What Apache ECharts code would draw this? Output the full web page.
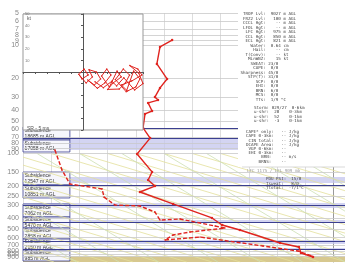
<!DOCTYPE html>
<html><head><meta charset="utf-8">
<script src="https://cdn.jsdelivr.net/npm/echarts@6/dist/echarts.min.js"></script>
<style>html,body{margin:0;padding:0;background:#fff;overflow:hidden}#c{width:345px;height:267px}</style>
</head><body><div id="c"></div>
<script>
// ---------- data ----------
const pressureTicks = [5,6,7,8,9,10,20,30,40,50,60,70,80,90,100,150,200,250,300,400,500,600,700,800,850,900];
// temperature profile (skewed deg C, hPa)
const tempX = [-57.2,-61.5,-62.6,-59.0,-61.5,-63.3,-62.2,-65.7,-64.3,-66.8,-67.5,-65.0,-69.6,-64.3,-65.7,-63.3,-68.6,-56.9,-43.1,-39.5,-33.2,-19.0,-12.3,-11.6,-7.3];
const tempP = [8.9,10.3,14.8,20.4,24.7,30,32,34,40.4,43,58,72,101,148,176,200,227,293,395,459,511,674,734,834,908];
// dew point profile
const dewX = [-98.7,-96.2,-93.4,-82.0,-81.3,-77.4,-68.6,-63.3,-61.5,-54.4,-42.0,-38.5,-50.9,-56.9,-59.7,-47.3,-25.0,-12.6,-7.7];
const dewP = [92.8,142,191.5,213,253,300,306,348,413,404,469,490,533,568,632,593,718,800,889];
// hodograph (u, v)
const hodoU = [-2.6,0.9,4.3,-0.9,-3.5,2.6,7.8,5.0,11.2,14.7,9.5,4.0,12.0,18.1,23.3,19.8,15.5,22.0,28.4,31.9,25.0,20.5,30.2,35.3,38.8,33.6,27.0,36.0,42.2,47.4,44.0,37.1,31.9,40.5,49.1,45.7,39.0,46.5,50.0,43.0,34.0,28.0,24.0,17.0,10.0];
const hodoV = [-0.9,2.6,-2.6,-6.0,-2.0,-9.5,-4.3,2.0,0,-6.0,-11.2,-7.0,-14.0,-9.5,-2.6,2.6,-3.5,-13.0,0.9,-4.3,-9.5,-15.0,-14.7,-9.5,-2.6,2.6,-6.5,-17.0,0.9,-6.0,-12.9,-16.4,-11.2,-7.8,-2.6,2.6,5.5,-1.0,-10.0,-15.5,-5.0,-12.0,-8.0,-13.5,-8.5];
// subsidence shading layers (top hPa, bottom hPa)
const bandTop = [71.8,165,287,413,632,750];
const bandBottom = [92.8,187.5,320,440,689,782];
const layerLines = [58,71.8,195.6,300,431,646,766];
// subsidence label boxes
const boxTop = [56.8,75,148.4,195.6,293.4,387,489.6,619,782];
const boxBottom = [75,96.8,195.6,258,387,489.6,619,782,989];
const boxText = ['Subsidence\n18685 m AGL','Subsidence\n17058 m AGL','Subsidence\n12547 m AGL','Subsidence\n10851 m AGL','Subsidence\n7062 m AGL','Subsidence\n5470 m AGL','Subsidence\n2858 m AGL','Subsidence\n2150 m AGL','Subsidence\n985 m AGL'];
const groundTop = 889;
// background adiabats
const dryAdiabats = [
 [[-110,108],[4,845]],[[-110,128],[4,1002]],[[-110,152],[-5,1010]],[[-110,180],[-14,1010]],
 [[-110,213],[-24,1010]],[[-110,253],[-33,1010]],[[-110,300],[-43,1010]],[[-110,356],[-52,1010]],
 [[-110,422],[-62,1010]],[[-110,500],[-71,1010]],[[-110,593],[-80,1010]],[[-110,703],[-90,1010]],
 [[-110,834],[-99,1010]],[[-100,100],[4,654]],[[-90,100],[4,546]],[[-80,100],[4,455]],
 [[-70,100],[4,381]],[[-60,100],[4,318]],[[-50,100],[4,265]],[[-40,100],[4,221]],
 [[-30,100],[4,185]],[[-20,100],[4,154]],[[-10,100],[4,129]]
];
const moistAdiabats = [
 [[-105,100],[-41,1010]],[[-90,100],[-26,1010]],[[-75,100],[-11,1010]],[[-60,100],[4,1010]],
 [[-45,100],[19,1010]],[[-30,100],[34,1010]],[[-15,100],[49,1010]],[[0,100],[64,1010]],
 [[-110,178],[-62,1010]],[[-110,300],[-76,1010]],[[-110,510],[-91,1010]]
];
// text panel
const statsBlock1 = [
'  TROP Lvl:  9027 m AGL','  FRZ2 Lvl:   100 m AGL','  CCCL Hgt:    -- m AGL','  LFOL Hgt:    -- m AGL',
'   LFC Hgt:   975 m AGL','   CCL Hgt:   850 m AGL','   ECL Hgt:   821 m AGL','     Water:  0.64 cm',
'      Hail:    -- cm','   T(Conv):    -- kt','    MinWBZ:    15 kt','     SWEAT: 23/0',
'      CAPE:  0/0',' Sharpness: 45/0','    STP(f): 31/0','       SCP:  0/0',
'       EHI:  0/0','       BRN:  6/0','       MCS:  0/0','       TTs:  1/9 \u00b0C'];
const statsBlock2 = ['Storm: 029/27  0-6km','u-shr:  28    0-3km','u-shr:  52    0-1km','u-shr:  -3    0-1km'];
const statsBlock3 = ['CAPE* only:   -- J/kg','CAPE 0-3km:   -- J/kg',' CIN total:   -- J/kg','DCAPE Area:   -- J/kg',' VGP 0-6km:   --',' EHI 0-3km:   --','      BRN:    -- m/s','     BRNS:    --'];
const statsLine4 = 'LFC 1175 / LFL 909 mb';
const statsBlock5 = ['PDU PSI:  15/0','Tsweat:   8/0','Ttotal:  -7/1\u00b0C'];

// ---------- chart ----------
const RED = '#e0241f', NAVY = '#3b3f90', LAV = 'rgba(196,198,238,0.75)';
const zip = (a,b) => a.map((v,i)=>[v,b[i]]);
const series = [];
series.push({type:'line', data:[], xAxisIndex:0, yAxisIndex:0, z:1, silent:true,
  markArea:{silent:true, label:{show:false}, data:
    bandTop.map((t,i)=>[{yAxis:t, itemStyle:{color:LAV}},{yAxis:bandBottom[i]}]).concat([
      [{yAxis:groundTop, itemStyle:{color:'#e9e0b3'}},{yAxis:910}],
      [{yAxis:910, itemStyle:{color:'#d7c88f'}},{yAxis:1010}]
    ])}});
dryAdiabats.forEach(s=>series.push({type:'line', data:s, symbol:'none', silent:true, z:2,
  lineStyle:{color:'#e3df9a', width:0.8}}));
moistAdiabats.forEach(s=>series.push({type:'line', data:s, symbol:'none', silent:true, z:2,
  lineStyle:{color:'#cde0b2', width:0.8}}));
series.push({type:'line', data:[], z:2, silent:true,
  markLine:{silent:true, symbol:['none','none'], label:{show:false},
    lineStyle:{color:'#c9c9c9', width:0.8, type:'solid'},
    data: pressureTicks.map(p=>({yAxis:p}))}});
series.push({type:'line', data:[], z:3, silent:true,
  markLine:{silent:true, symbol:['none','none'], label:{show:false},
    lineStyle:{color:NAVY, width:1.1, type:'solid'},
    data: layerLines.map(p=>({yAxis:p}))}});
series.push({type:'line', data:[], z:4, silent:true,
  markArea:{silent:true, data: boxTop.map((t,i)=>[
    {name:boxText[i], xAxis:-110, yAxis:t, itemStyle:{color:'#f6f6fc', borderColor:NAVY, borderWidth:0.8},
     label:{show:true, position:'insideLeft', distance:2, fontSize:5, lineHeight:5.4, color:'#333', fontFamily:'Liberation Sans'}},
    {xAxis:-93.4, yAxis:boxBottom[i]}])}});
series.push({type:'scatter', data: pressureTicks.map(p=>[-110,p]), symbolSize:0, z:4, silent:true, clip:false,
  label:{show:true, position:'left', distance:4, formatter:(p)=>String(p.value[1]), fontSize:7, color:'#6a6a6a', fontFamily:'Liberation Sans'}});
series.push({type:'line', data: zip(dewX,dewP), z:5, symbol:'circle', symbolSize:1.5, silent:true,
  itemStyle:{color:RED}, lineStyle:{color:RED, width:1.4, type:[4,2]}});
series.push({type:'line', data: zip(tempX,tempP), z:6, symbol:'circle', symbolSize:2.5, silent:true,
  itemStyle:{color:RED}, lineStyle:{color:RED, width:1.4}});
series.push({type:'line', xAxisIndex:1, yAxisIndex:1, data: zip(hodoU,hodoV), z:12, symbol:'circle', symbolSize:1.5, silent:true,
  itemStyle:{color:RED}, lineStyle:{color:RED, width:1}});

const txt = (x,y,lines,lh,fill,fs) => ({type:'text', x:x, y:y, z:31, silent:true,
  style:{text: lines.join('\n'), fontSize: fs||4.2, lineHeight: lh, fontFamily:'DejaVu Sans Mono', fill: fill||'#444'}});

const option = {
  animation:false,
  backgroundColor:'#fff',
  grid:[
    {left:23, top:13, width:322, height:249, show:false, outerBoundsMode:'none'},
    {left:23, top:14, width:120, height:116, show:true, backgroundColor:'#fff', borderColor:'#999', borderWidth:1, z:10, outerBoundsMode:'none'}
  ],
  xAxis:[
    {type:'value', gridIndex:0, min:-110, max:4, interval:10,
     splitLine:{show:true, lineStyle:{color:'#d4d4d4', width:0.8}},
     axisLine:{show:false}, axisTick:{show:false},
     axisLabel:{fontSize:7, color:'#888', margin:5, showMaxLabel:false}},
    {type:'value', gridIndex:1, min:-50, max:50, interval:10, z:11,
     splitLine:{show:false}, axisLine:{onZero:true, lineStyle:{color:'#555', width:1}},
     axisTick:{show:true, length:2, lineStyle:{color:'#555'}}, axisLabel:{show:false}}
  ],
  yAxis:[
    {type:'log', gridIndex:0, min:5, max:1010, inverse:true, logBase:10,
     splitLine:{show:false}, axisTick:{show:false}, axisLabel:{show:false},
     axisLine:{show:true, lineStyle:{color:'#999', width:1}}},
    {type:'value', gridIndex:1, min:-50, max:50, interval:10, z:11,
     splitLine:{show:false}, axisLine:{onZero:true, lineStyle:{color:'#555', width:1}},
     axisTick:{show:true, length:2, lineStyle:{color:'#555'}},
     axisLabel:{show:true, inside:true, fontSize:4, color:'#777', margin:2,
       formatter:(v)=> v>0 ? String(v) : ''}}
  ],
  graphic:[
    {type:'text', x:27, y:16, z:20, silent:true, style:{text:'kt', fontSize:5, fill:'#555', fontFamily:'Liberation Sans'}},
    {type:'text', x:27, y:126, z:20, silent:true, style:{text:'SR - 5 ms', fontSize:5, fill:'#555', fontFamily:'Liberation Sans'}},
    {type:'rect', z:30, silent:true, shape:{x:238, y:0, width:107, height:167}, style:{fill:'#fff'}},
    {type:'line', z:30, silent:true, shape:{x1:242, y1:167, x2:345, y2:167}, style:{stroke:'#cfcfcf', lineWidth:0.8}},
    txt(238, 12, statsBlock1, 4.5),
    txt(254, 106, statsBlock2, 4.2),
    txt(246, 130, statsBlock3, 4.2),
    txt(247, 169, [statsLine4], 4.2, '#999'),
    txt(266, 177, statsBlock5, 4.4)
  ],
  series: series
};
const chart = echarts.init(document.getElementById('c'));
chart.setOption(option);
</script></body></html>
